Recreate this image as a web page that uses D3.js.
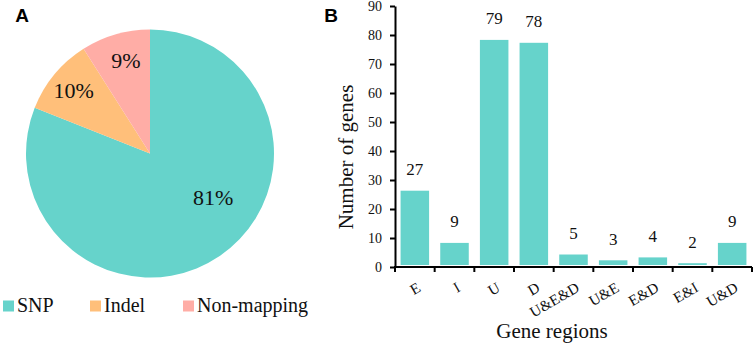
<!DOCTYPE html>
<html>
<head>
<meta charset="utf-8">
<script src="https://cdn.jsdelivr.net/npm/d3@7"></script>
<style>
  html, body { margin: 0; padding: 0; background: #fff; }
  svg { display: block; }
</style>
</head>
<body>
<svg id="chart" width="754" height="347"></svg>
<script>
// ---- Data ----
const pieCategories = ["SNP", "Indel", "Non-mapping"];
const pieValues = [81, 10, 9];
const pieColors = ["#66D3CB", "#FFBF7A", "#FFADA6"];

const barCategories = ["E", "I", "U", "D", "U&E&D", "U&E", "E&D", "E&I", "U&D"];
const barValues = [27, 9, 79, 78, 5, 3, 4, 2, 9];
const yTicks = [0, 10, 20, 30, 40, 50, 60, 70, 80, 90];

// ---- Layout ----
const svg = d3.select("#chart");
const serif = "'Liberation Serif', 'Times New Roman', serif";
const sans = "'Liberation Sans', Arial, sans-serif";

// Panel letters
svg.append("text").attr("x", 22).attr("y", 22).attr("text-anchor", "middle")
  .style("font-family", sans).attr("font-weight", "bold").attr("font-size", 19).text("A");
svg.append("text").attr("x", 331).attr("y", 22).attr("text-anchor", "middle")
  .style("font-family", sans).attr("font-weight", "bold").attr("font-size", 19).text("B");

// ---- Pie ----
const cx = 150, cy = 153.5, R = 124;
const pie = d3.pie().sort(null).value(d => d)(pieValues);
const arc = d3.arc().innerRadius(0).outerRadius(R);
const gPie = svg.append("g").attr("transform", `translate(${cx},${cy})`);
gPie.selectAll("path").data(pie).join("path")
  .attr("d", arc)
  .attr("fill", (d, i) => pieColors[i]);

// label placement: [angle (deg, clockwise from top), radius]
const labelLayout = [[125, 77], [309.6, 99], [345.6, 96.5]];
gPie.selectAll("text.pl").data(pie).join("text")
  .attr("class", "pl")
  .attr("x", (d, i) => Math.sin(labelLayout[i][0] * Math.PI / 180) * labelLayout[i][1])
  .attr("y", (d, i) => -Math.cos(labelLayout[i][0] * Math.PI / 180) * labelLayout[i][1])
  .attr("text-anchor", "middle")
  .attr("dy", "0.35em")
  .style("font-family", serif).attr("font-size", 22).attr("fill", "#111")
  .text(d => Math.round(d.value) + "%");

// Legend
const legendX = [3, 90, 183];
const gLeg = svg.append("g");
pieCategories.forEach((c, i) => {
  gLeg.append("rect").attr("x", legendX[i]).attr("y", 300.5).attr("width", 11).attr("height", 11)
    .attr("fill", pieColors[i]);
  gLeg.append("text").attr("x", legendX[i] + 14).attr("y", 312)
    .style("font-family", serif).attr("font-size", 20).attr("fill", "#111").text(c);
});

// ---- Bar chart ----
const x0 = 395, x1 = 752, yBottom = 267, yTop = 6;
const x = d3.scaleBand().domain(barCategories).range([x0, x1]).paddingInner(0.18).paddingOuter(0.09);
const y = d3.scaleLinear().domain([0, 90]).range([yBottom, yTop]);

const gBar = svg.append("g");
gBar.selectAll("rect").data(barValues).join("rect")
  .attr("x", (d, i) => x(barCategories[i]))
  .attr("width", x.bandwidth())
  .attr("y", d => y(d))
  .attr("height", d => y(0) - y(d))
  .attr("fill", pieColors[0])
  .attr("stroke", "#fff")
  .attr("stroke-width", 4);

// value labels
gBar.selectAll("text").data(barValues).join("text")
  .attr("x", (d, i) => x(barCategories[i]) + x.bandwidth() / 2)
  .attr("y", d => y(d) - 13.5)
  .attr("text-anchor", "middle")
  .style("font-family", serif).attr("font-size", 17).attr("fill", "#111")
  .text(d => d);

// y axis
const yAxis = d3.axisLeft(y).tickValues(yTicks).tickSize(5).tickSizeOuter(0).tickPadding(8);
const gy = svg.append("g").attr("transform", `translate(${x0},0)`).call(yAxis);
gy.attr("font-family", serif);
gy.select(".domain").attr("stroke", "#000").attr("stroke-width", 2);
gy.selectAll(".tick line").attr("stroke", "#000").attr("stroke-width", 2);
gy.selectAll(".tick text").style("font-family", serif).attr("font-size", 14).attr("fill", "#111");

// x axis line
svg.append("line").attr("x1", x0 - 1).attr("x2", x1).attr("y1", yBottom).attr("y2", yBottom)
  .attr("stroke", "#000").attr("stroke-width", 2);
// boundary ticks
const bounds = d3.range(barCategories.length + 1).map(i => x0 + i * x.step() / (1 - 0) * 1 + 0).map((v, i) => x0 + i * (x1 - x0) / barCategories.length);
svg.append("g").selectAll("line").data(bounds).join("line")
  .attr("x1", d => d).attr("x2", d => d)
  .attr("y1", yBottom).attr("y2", yBottom + 5)
  .attr("stroke", "#000").attr("stroke-width", 2);

// x tick labels
svg.append("g").selectAll("text").data(barCategories).join("text")
  .attr("transform", d => `translate(${x(d) + x.bandwidth() / 2 + 2},282) rotate(-30)`)
  .attr("text-anchor", "end")
  .attr("dy", "0.66em")
  .style("font-family", serif).attr("font-size", 15).attr("fill", "#111")
  .text(d => d);

// axis titles
svg.append("text").attr("transform", "translate(353,157) rotate(-90)")
  .attr("text-anchor", "middle")
  .style("font-family", serif).attr("font-size", 21).attr("fill", "#111")
  .text("Number of genes");
svg.append("text").attr("x", 552).attr("y", 338)
  .attr("text-anchor", "middle")
  .style("font-family", serif).attr("font-size", 21).attr("fill", "#111")
  .text("Gene regions");
</script>
</body>
</html>
